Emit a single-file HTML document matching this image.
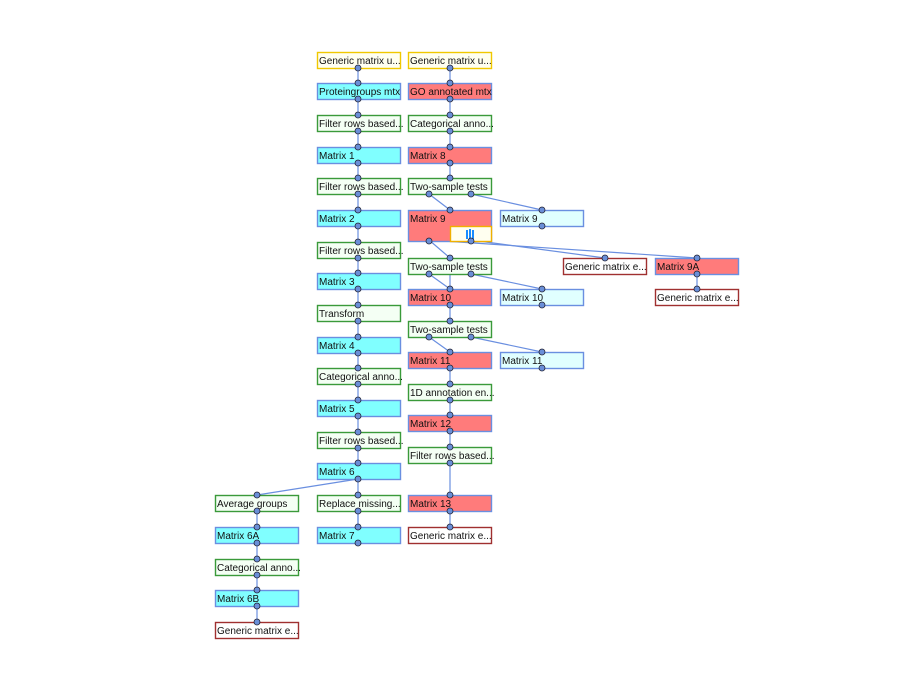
<!DOCTYPE html>
<html><head><meta charset="utf-8"><style>
html,body{margin:0;padding:0;background:#fff;}
svg{display:block;}
text{font-family:"Liberation Sans",sans-serif;font-size:10px;fill:#111;}
rect{stroke-width:1.4;}
.c{fill:#80ffff;stroke:#6a8fe0;}
.r{fill:#ff7b7b;stroke:#6a8fe0;}
.lc{fill:#e0ffff;stroke:#6a8fe0;}
.g{fill:#f4fff4;stroke:#3a9a3a;}
.y{fill:#fffff0;stroke:#f0c800;}
.dr{fill:#fff;stroke:#a03030;}
.e{stroke:#6a8fe0;stroke-width:1.2;fill:none;}
.p{fill:#6a8fd8;stroke:#223;stroke-width:0.8;}
</style></head><body>
<svg width="909" height="673" viewBox="0 0 909 673" xmlns="http://www.w3.org/2000/svg">
<g class="e">
<line x1="358" y1="68" x2="358" y2="527"/>
<line x1="358" y1="479" x2="257" y2="495"/>
<line x1="358" y1="511" x2="358" y2="543"/>
<line x1="257" y1="495" x2="257" y2="622"/>
<line x1="450" y1="68" x2="450" y2="178"/>
<line x1="429" y1="194" x2="450" y2="210"/>
<line x1="471" y1="194" x2="542" y2="210"/>
<line x1="429" y1="240" x2="450" y2="258"/>
<line x1="429" y1="240" x2="697" y2="258"/>
<line x1="471" y1="240" x2="605" y2="258"/>
<line x1="697" y1="274" x2="697" y2="289"/>
<line x1="450" y1="274" x2="450" y2="289"/>
<line x1="429" y1="274" x2="450" y2="289"/>
<line x1="471" y1="274" x2="542" y2="289"/>
<line x1="450" y1="305" x2="450" y2="321"/>
<line x1="429" y1="337" x2="450" y2="352"/>
<line x1="471" y1="337" x2="542" y2="352"/>
<line x1="450" y1="368" x2="450" y2="527"/>
</g>
<rect class="y" x="317.5" y="52.5" width="83" height="16"/><text x="319" y="64">Generic matrix u...</text>
<rect class="c" x="317.5" y="83.5" width="83" height="16"/><text x="319" y="95">Proteingroups mtx</text>
<rect class="g" x="317.5" y="115.5" width="83" height="16"/><text x="319" y="127">Filter rows based...</text>
<rect class="c" x="317.5" y="147.5" width="83" height="16"/><text x="319" y="159">Matrix 1</text>
<rect class="g" x="317.5" y="178.5" width="83" height="16"/><text x="319" y="190">Filter rows based...</text>
<rect class="c" x="317.5" y="210.5" width="83" height="16"/><text x="319" y="222">Matrix 2</text>
<rect class="g" x="317.5" y="242.5" width="83" height="16"/><text x="319" y="254">Filter rows based...</text>
<rect class="c" x="317.5" y="273.5" width="83" height="16"/><text x="319" y="285">Matrix 3</text>
<rect class="g" x="317.5" y="305.5" width="83" height="16"/><text x="319" y="317">Transform</text>
<rect class="c" x="317.5" y="337.5" width="83" height="16"/><text x="319" y="349">Matrix 4</text>
<rect class="g" x="317.5" y="368.5" width="83" height="16"/><text x="319" y="380">Categorical anno...</text>
<rect class="c" x="317.5" y="400.5" width="83" height="16"/><text x="319" y="412">Matrix 5</text>
<rect class="g" x="317.5" y="432.5" width="83" height="16"/><text x="319" y="444">Filter rows based...</text>
<rect class="c" x="317.5" y="463.5" width="83" height="16"/><text x="319" y="475">Matrix 6</text>
<rect class="g" x="317.5" y="495.5" width="83" height="16"/><text x="319" y="507">Replace missing...</text>
<rect class="c" x="317.5" y="527.5" width="83" height="16"/><text x="319" y="539">Matrix 7</text>
<rect class="g" x="215.5" y="495.5" width="83" height="16"/><text x="217" y="507">Average groups</text>
<rect class="c" x="215.5" y="527.5" width="83" height="16"/><text x="217" y="539">Matrix 6A</text>
<rect class="g" x="215.5" y="559.5" width="83" height="16"/><text x="217" y="571">Categorical anno...</text>
<rect class="c" x="215.5" y="590.5" width="83" height="16"/><text x="217" y="602">Matrix 6B</text>
<rect class="dr" x="215.5" y="622.5" width="83" height="16"/><text x="217" y="634">Generic matrix e...</text>
<rect class="y" x="408.5" y="52.5" width="83" height="16"/><text x="410" y="64">Generic matrix u...</text>
<rect class="r" x="408.5" y="83.5" width="83" height="16"/><text x="410" y="95">GO annotated mtx</text>
<rect class="g" x="408.5" y="115.5" width="83" height="16"/><text x="410" y="127">Categorical anno...</text>
<rect class="r" x="408.5" y="147.5" width="83" height="16"/><text x="410" y="159">Matrix 8</text>
<rect class="g" x="408.5" y="178.5" width="83" height="16"/><text x="410" y="190">Two-sample tests</text>
<rect class="r" x="408.5" y="210.5" width="83" height="31"/><text x="410" y="222">Matrix 9</text>
<rect x="450.5" y="226.5" width="41" height="15" fill="#fffff0" stroke="#f0b000"/>
<path d="M467 230 L467 239 M470 229 L470 240 M473 230 L473 239" stroke="#1a8cff" stroke-width="2"/>
<rect class="g" x="408.5" y="258.5" width="83" height="16"/><text x="410" y="270">Two-sample tests</text>
<rect class="r" x="408.5" y="289.5" width="83" height="16"/><text x="410" y="301">Matrix 10</text>
<rect class="g" x="408.5" y="321.5" width="83" height="16"/><text x="410" y="333">Two-sample tests</text>
<rect class="r" x="408.5" y="352.5" width="83" height="16"/><text x="410" y="364">Matrix 11</text>
<rect class="g" x="408.5" y="384.5" width="83" height="16"/><text x="410" y="396">1D annotation en...</text>
<rect class="r" x="408.5" y="415.5" width="83" height="16"/><text x="410" y="427">Matrix 12</text>
<rect class="g" x="408.5" y="447.5" width="83" height="16"/><text x="410" y="459">Filter rows based...</text>
<rect class="r" x="408.5" y="495.5" width="83" height="16"/><text x="410" y="507">Matrix 13</text>
<rect class="dr" x="408.5" y="527.5" width="83" height="16"/><text x="410" y="539">Generic matrix e...</text>
<rect class="lc" x="500.5" y="210.5" width="83" height="16"/><text x="502" y="222">Matrix 9</text>
<rect class="lc" x="500.5" y="289.5" width="83" height="16"/><text x="502" y="301">Matrix 10</text>
<rect class="lc" x="500.5" y="352.5" width="83" height="16"/><text x="502" y="364">Matrix 11</text>
<rect class="dr" x="563.5" y="258.5" width="83" height="16"/><text x="565" y="270">Generic matrix e...</text>
<rect class="r" x="655.5" y="258.5" width="83" height="16"/><text x="657" y="270">Matrix 9A</text>
<rect class="dr" x="655.5" y="289.5" width="83" height="16"/><text x="657" y="301">Generic matrix e...</text>
<g class="p">
<circle cx="358" cy="68" r="3"/><circle cx="358" cy="83" r="3"/><circle cx="358" cy="99" r="3"/><circle cx="358" cy="115" r="3"/><circle cx="358" cy="131" r="3"/><circle cx="358" cy="147" r="3"/><circle cx="358" cy="163" r="3"/><circle cx="358" cy="178" r="3"/><circle cx="358" cy="194" r="3"/><circle cx="358" cy="210" r="3"/><circle cx="358" cy="226" r="3"/><circle cx="358" cy="242" r="3"/><circle cx="358" cy="258" r="3"/><circle cx="358" cy="273" r="3"/><circle cx="358" cy="289" r="3"/><circle cx="358" cy="305" r="3"/><circle cx="358" cy="321" r="3"/><circle cx="358" cy="337" r="3"/><circle cx="358" cy="353" r="3"/><circle cx="358" cy="368" r="3"/><circle cx="358" cy="384" r="3"/><circle cx="358" cy="400" r="3"/><circle cx="358" cy="416" r="3"/><circle cx="358" cy="432" r="3"/><circle cx="358" cy="448" r="3"/><circle cx="358" cy="463" r="3"/><circle cx="358" cy="479" r="3"/><circle cx="358" cy="495" r="3"/><circle cx="358" cy="511" r="3"/><circle cx="358" cy="527" r="3"/><circle cx="358" cy="543" r="3"/>
<circle cx="257" cy="495" r="3"/><circle cx="257" cy="511" r="3"/><circle cx="257" cy="527" r="3"/><circle cx="257" cy="543" r="3"/><circle cx="257" cy="559" r="3"/><circle cx="257" cy="575" r="3"/><circle cx="257" cy="590" r="3"/><circle cx="257" cy="606" r="3"/><circle cx="257" cy="622" r="3"/>
<circle cx="450" cy="68" r="3"/><circle cx="450" cy="83" r="3"/><circle cx="450" cy="99" r="3"/><circle cx="450" cy="115" r="3"/><circle cx="450" cy="131" r="3"/><circle cx="450" cy="147" r="3"/><circle cx="450" cy="163" r="3"/><circle cx="450" cy="178" r="3"/>
<circle cx="429" cy="194" r="3"/><circle cx="471" cy="194" r="3"/><circle cx="450" cy="210" r="3"/><circle cx="542" cy="210" r="3"/><circle cx="542" cy="226" r="3"/>
<circle cx="429" cy="241" r="3"/><circle cx="471" cy="241" r="3"/>
<circle cx="450" cy="258" r="3"/><circle cx="429" cy="274" r="3"/><circle cx="471" cy="274" r="3"/>
<circle cx="605" cy="258" r="3"/><circle cx="697" cy="258" r="3"/><circle cx="697" cy="274" r="3"/><circle cx="697" cy="289" r="3"/>
<circle cx="450" cy="289" r="3"/><circle cx="450" cy="305" r="3"/><circle cx="542" cy="289" r="3"/><circle cx="542" cy="305" r="3"/>
<circle cx="450" cy="321" r="3"/><circle cx="429" cy="337" r="3"/><circle cx="471" cy="337" r="3"/>
<circle cx="450" cy="352" r="3"/><circle cx="450" cy="368" r="3"/><circle cx="542" cy="352" r="3"/><circle cx="542" cy="368" r="3"/>
<circle cx="450" cy="384" r="3"/><circle cx="450" cy="400" r="3"/><circle cx="450" cy="415" r="3"/><circle cx="450" cy="431" r="3"/><circle cx="450" cy="447" r="3"/><circle cx="450" cy="463" r="3"/><circle cx="450" cy="495" r="3"/><circle cx="450" cy="511" r="3"/><circle cx="450" cy="527" r="3"/>
</g>
</svg>
</body></html>
